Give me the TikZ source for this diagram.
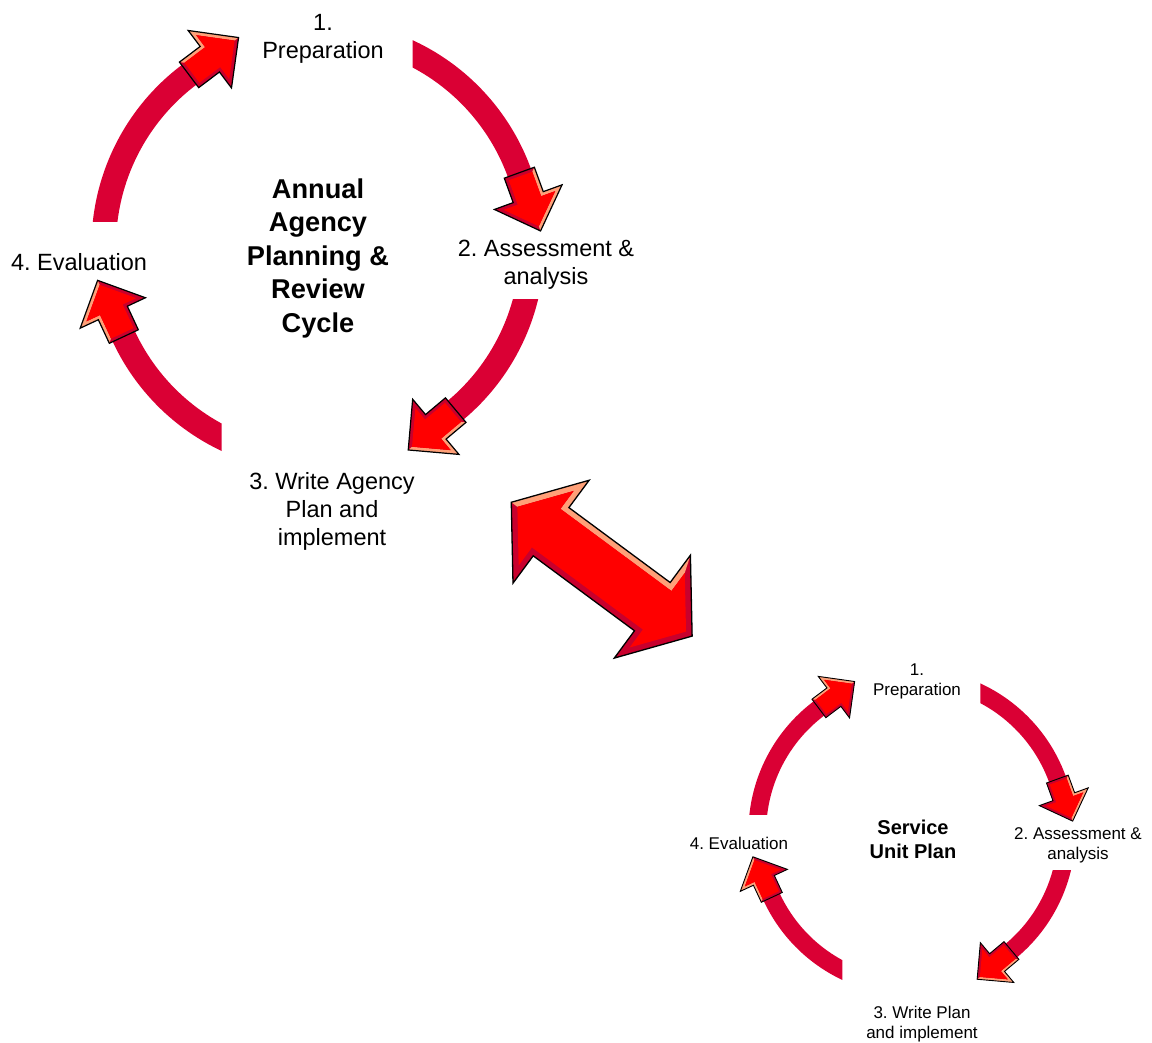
\documentclass[tikz,border=0pt]{standalone}
\usepackage{fontspec}
\setmainfont{Liberation Sans}
\definecolor{ringred}{RGB}{218,0,52}
\definecolor{facered}{RGB}{255,0,0}
\definecolor{lightrim}{RGB}{255,160,120}
\definecolor{darkrim}{RGB}{200,0,45}

\tikzset{
  ring/.style={draw=ringred, line width=#1},
  arrowline/.style={draw=black, line width=1.2pt, line join=miter},
  bigtxt/.style={font=\fontsize{23.5}{28}\selectfont, align=center, inner sep=0pt},
  bigtitle/.style={font=\bfseries\fontsize{27.2}{33.5}\selectfont, align=center, inner sep=0pt},
  smalltxt/.style={font=\fontsize{17}{20}\selectfont, align=center, inner sep=0pt},
  smalltitle/.style={font=\bfseries\fontsize{20}{24}\selectfont, align=center, inner sep=0pt},
  blockarrow/.pic={
    \fill[darkrim] (0,-16) -- (26,-16) -- (26,-36) -- (62,0) -- (26,36) -- (26,16) -- (0,16) -- cycle;
    \fill[lightrim] (62,0) -- (26,36) -- (26,16) -- (0,16) -- (3.5,12.5) -- (29.5,12.5) -- (29.5,27.55) -- (57.05,0) -- cycle;
    \fill[facered] (3.5,-12.5) -- (29.5,-12.5) -- (29.5,-27.55) -- (57.05,0) -- (29.5,27.55) -- (29.5,12.5) -- (3.5,12.5) -- cycle;
    \draw[arrowline] (0,-16) -- (26,-16) -- (26,-36) -- (62,0) -- (26,36) -- (26,16) -- (0,16) -- cycle;
  },
}

\begin{document}
\frenchspacing
\begin{tikzpicture}[x=1pt,y=1pt]
  \useasboundingbox (0,0) rectangle (1152,1043);

  % annual agency cycle
  \begin{scope}[shift={(318,797)}]
    \foreach \from/\to/\ca/\cb in {70/17/{94.7,0}/{300,300}, -5/-53/{0,-54}/{300,-300},
                                   250/202/{-96.3,0}/{-300,-300}, 185/124/{0,24}/{-300,300}} {
      \begin{scope}
        \clip (\ca) rectangle (\cb);
        \draw[ring=24.5pt] (\from:214.25) arc[start angle=\from, end angle=\to, radius=214.25];
      \end{scope}
    }
    \foreach \ang in {20,-50,205,127}
      \pic[rotate=\ang-90] at (\ang:214.25) {blockarrow};
  \end{scope}

  \node[bigtxt] (prep) at (323,1004) {1.\\Preparation};
  \node[bigtxt] (assess) at (546,778.5) {2. Assessment \&\\analysis};
  \node[bigtxt] (write) at (332,531.5) {3. Write Agency\\Plan and\\implement};
  \node[bigtxt] (eval) at (79,781) {4. Evaluation};
  \node[bigtitle] (annual) at (318,785) {Annual\\Agency\\Planning \&\\Review\\Cycle};

  % service unit cycle
  \begin{scope}[shift={(912,211)}, scale=0.722, arrowline/.style={draw=black, line width=0.9pt, line join=miter}]
    \foreach \from/\to/\ca/\cb in {70/17/{94.7,0}/{300,300}, -5/-53/{0,-54}/{300,-300},
                                   250/202/{-96.3,0}/{-300,-300}, 185/124/{0,24}/{-300,300}} {
      \begin{scope}
        \clip (\ca) rectangle (\cb);
        \draw[ring=17.7pt] (\from:214.25) arc[start angle=\from, end angle=\to, radius=214.25];
      \end{scope}
    }
    \foreach \ang in {20,-50,205,127}
      \pic[rotate=\ang-90, scale=0.722] at (\ang:214.25) {blockarrow};
  \end{scope}

  \node[smalltxt] (sprep) at (917,361.5) {1.\\Preparation};
  \node[smalltxt] (sassess) at (1078,198) {2. Assessment \&\\analysis};
  \node[smalltxt] (swrite) at (922,19) {3. Write Plan\\and implement};
  \node[smalltxt] (seval) at (739,200) {4. Evaluation};
  \node[smalltitle] (service) at (913,204) {Service\\Unit Plan};

  % double arrow between the two cycles
  \begin{scope}[shift={(601.7,473.8)}, rotate=-36.5]
    \fill[darkrim] (-112.5,0) -- (-63,64) -- (-63,30) -- (63,30) -- (63,64) -- (112.5,0)
      -- (63,-64) -- (63,-30) -- (-63,-30) -- (-63,-64) -- cycle;
    \fill[lightrim] (-112.5,0) -- (-63,64) -- (-63,30) -- (63,30) -- (63,64) -- (69,46.4)
      -- (69,24) -- (-69,24) -- (-69,46.4) -- (-104.9,0) -- cycle;
    \fill[facered] (-104.9,0) -- (-69,46.4) -- (-69,24) -- (69,24) -- (69,46.4) -- (104.9,0)
      -- (69,-46.4) -- (69,-24) -- (-69,-24) -- (-69,-46.4) -- cycle;
    \draw[black, line width=1.3pt, line join=miter] (-112.5,0) -- (-63,64) -- (-63,30) -- (63,30)
      -- (63,64) -- (112.5,0) -- (63,-64) -- (63,-30) -- (-63,-30) -- (-63,-64) -- cycle;
  \end{scope}
\end{tikzpicture}
\end{document}
